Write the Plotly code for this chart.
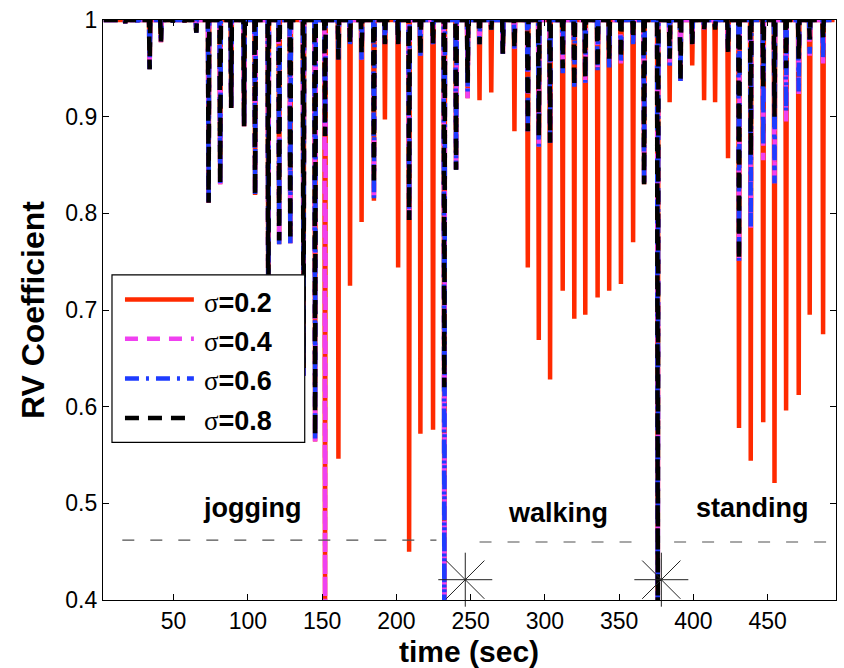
import plotly.graph_objects as go

# ---------------- data ----------------
dip_times = [17.5, 25.7, 33.9, 41.5, 49.5, 57.4, 65.3, 73.6, 81.4, 88.8,
             97.5, 104.9, 113.8, 121.1, 128.6, 137.5, 145.3, 152.0, 161.0, 168.8,
             176.6, 184.9, 192.3, 201.2, 208.6, 216.2, 224.7, 232.3, 240.2, 248.0,
             256.0, 263.9, 271.7, 279.5, 288.5, 295.9, 303.5, 312.0, 319.8, 327.2,
             335.5, 343.3, 351.2, 359.4, 366.8, 376.0, 384.0, 391.3, 399.2, 407.2,
             414.6, 423.3, 430.7, 438.6, 447.0, 454.6, 462.4, 470.9, 478.3, 487.3]

rv_sigma02 = [0.997, 0.998, 0.949, 0.977, 0.998, 0.998, 0.987, 0.811, 0.830, 0.909,
              0.890, 0.819, 0.650, 0.768, 0.769, 0.632, 0.564, 0.380, 0.546, 0.725,
              0.791, 0.813, 0.897, 0.744, 0.450, 0.572, 0.576, 0.380, 0.845, 0.919,
              0.917, 0.925, 0.965, 0.885, 0.744, 0.669, 0.628, 0.720, 0.691, 0.695,
              0.713, 0.720, 0.727, 0.770, 0.830, 0.380, 0.915, 0.937, 0.953, 0.917,
              0.915, 0.857, 0.578, 0.544, 0.584, 0.521, 0.596, 0.612, 0.695, 0.675]

rv_sigma04 = [0.997, 0.998, 0.949, 0.977, 0.998, 0.998, 0.987, 0.811, 0.830, 0.909,
              0.890, 0.819, 0.650, 0.768, 0.769, 0.632, 0.564, 0.380, 0.959, 0.975,
              0.959, 0.813, 0.975, 0.975, 0.793, 0.963, 0.975, 0.380, 0.845, 0.919,
              0.975, 0.990, 0.965, 0.970, 0.885, 0.869, 0.873, 0.945, 0.931, 0.935,
              0.947, 0.951, 0.955, 0.975, 0.830, 0.380, 0.953, 0.937, 0.975, 0.990,
              0.990, 0.967, 0.751, 0.785, 0.855, 0.831, 0.895, 0.921, 0.963, 0.955]

rv_sigma06 = [0.997, 0.998, 0.949, 0.977, 0.998, 0.998, 0.987, 0.811, 0.830, 0.909,
              0.890, 0.819, 0.650, 0.768, 0.769, 0.632, 0.564, 0.880, 0.959, 0.975,
              0.959, 0.815, 0.975, 0.975, 0.793, 0.963, 0.975, 0.380, 0.845, 0.925,
              0.975, 0.990, 0.965, 0.970, 0.885, 0.869, 0.873, 0.945, 0.931, 0.935,
              0.947, 0.951, 0.955, 0.975, 0.830, 0.380, 0.953, 0.937, 0.975, 0.990,
              0.990, 0.967, 0.751, 0.785, 0.870, 0.831, 0.905, 0.925, 0.965, 0.960]

rv_sigma08 = [0.997, 0.998, 0.949, 0.977, 0.998, 0.998, 0.987, 0.811, 0.830, 0.909,
              0.890, 0.819, 0.650, 0.772, 0.772, 0.640, 0.570, 0.880, 0.959, 0.975,
              0.965, 0.830, 0.975, 0.975, 0.793, 0.963, 0.975, 0.620, 0.845, 0.935,
              0.975, 0.990, 0.965, 0.970, 0.885, 0.880, 0.873, 0.950, 0.931, 0.940,
              0.950, 0.960, 0.960, 0.980, 0.830, 0.380, 0.960, 0.937, 0.975, 0.990,
              0.990, 0.967, 0.751, 0.860, 0.930, 0.900, 0.950, 0.960, 0.980, 0.980]

series_names = ["σ=0.2", "σ=0.4", "σ=0.6", "σ=0.8"]
series_values = [rv_sigma02, rv_sigma04, rv_sigma06, rv_sigma08]

time_start, time_end = 3.0, 495.0

activity_labels = ["jogging", "walking", "standing"]
activity_label_t = [102.9, 308.6, 440.0]
activity_label_v = [0.495, 0.490, 0.495]

threshold_t0 = [15.5, 256.0, 387.0]
threshold_t1 = [227.0, 359.0, 491.0]
threshold_v = [0.462, 0.460, 0.460]

change_t = [246.4, 378.4]
change_v = [0.421, 0.421]

x_ticks = [50, 100, 150, 200, 250, 300, 350, 400, 450]
y_ticks = [0.4, 0.5, 0.6, 0.7, 0.8, 0.9, 1.0]
y_ticktext = ["0.4", "0.5", "0.6", "0.7", "0.8", "0.9", "1"]

# ---------------- styles ----------------
colors = ["#FF2A00", "#F040F0", "#1E3CFF", "#000000"]
dashes = ["solid", "13px,9px", "14px,7px,3px,7px", "14px,9px"]
FONT = "Liberation Sans, Arial, Helvetica, sans-serif"

W, H = 844, 668
L, R, T, B = 103, 837, 15, 600  # plot area in pixels


def px(x):
    return (x - L) / (R - L)


def py(y):
    return (B - y) / (B - T)


fig = go.Figure()

for name, vals, col, dash in zip(series_names, series_values, colors, dashes):
    xs, ys = [time_start], [1.0]
    for t, v in zip(dip_times, vals):
        xs += [t - 0.45, t, t + 0.45]
        ys += [1.0, v, 1.0]
    xs.append(time_end)
    ys.append(1.0)
    fig.add_trace(go.Scatter(x=xs, y=ys, mode="lines", name=name,
                             line=dict(color=col, width=4.5, dash=dash, simplify=False),
                             showlegend=False, hoverinfo="skip"))

for t0, t1, v in zip(threshold_t0, threshold_t1, threshold_v):
    fig.add_trace(go.Scatter(x=[t0, t1], y=[v, v], mode="lines",
                             line=dict(color="#505050", width=1.2, dash="12px,16px"),
                             showlegend=False, hoverinfo="skip"))

fig.add_trace(go.Scatter(x=change_t, y=change_v, mode="markers",
                         marker=dict(symbol="asterisk-open", size=45, color="#222222",
                                     line=dict(color="#222222", width=1)),
                         cliponaxis=False, showlegend=False, hoverinfo="skip"))

annotations = []
for txt, t, v in zip(activity_labels, activity_label_t, activity_label_v):
    annotations.append(dict(x=t, y=v, xref="x", yref="y", text="<b>%s</b>" % txt,
                            showarrow=False, font=dict(family=FONT, size=27, color="black"),
                            xanchor="center", yanchor="middle"))

# axis titles
annotations.append(dict(x=px(469.7), y=py(651.5), xref="paper", yref="paper",
                        text="<b>time (sec)</b>", showarrow=False,
                        font=dict(family=FONT, size=30, color="black"),
                        xanchor="center", yanchor="middle"))
annotations.append(dict(x=px(33), y=py(307.5), xref="paper", yref="paper",
                        text="<b>RV Coefficient</b>", showarrow=False, textangle=-90,
                        font=dict(family=FONT, size=32, color="black"),
                        xanchor="center", yanchor="middle"))

# custom legend (box, line samples, labels)
shapes = [dict(type="rect", xref="paper", yref="paper",
               x0=px(112), x1=px(305), y0=py(441), y1=py(272),
               fillcolor="white", line=dict(color="black", width=1.2), layer="above")]
leg_y = [297, 336.5, 376.5, 416.5]
for name, col, dash, yy in zip(series_names, colors, dashes, leg_y):
    shapes.append(dict(type="line", xref="paper", yref="paper",
                       x0=px(125), x1=px(194), y0=py(yy), y1=py(yy),
                       line=dict(color=col, width=4.5, dash=dash), layer="above"))
    annotations.append(dict(x=px(202), y=py(yy + 3), xref="paper", yref="paper",
                            text="<span style='font-family:Liberation Serif;font-weight:normal'>σ</span><b>%s</b>" % name[1:],
                            showarrow=False, font=dict(family=FONT, size=27, color="black"),
                            xanchor="left", yanchor="middle"))

fig.update_layout(
    width=W, height=H,
    margin=dict(l=L, r=W - R, t=T, b=H - B),
    paper_bgcolor="white", plot_bgcolor="white",
    font=dict(family=FONT, color="black"),
    annotations=annotations, shapes=shapes,
    showlegend=False,
)

fig.update_xaxes(range=[2.5, 496], tickvals=x_ticks, ticks="inside", ticklen=6,
                 tickcolor="black", showline=True, linecolor="black", linewidth=1.2,
                 mirror="ticks", showgrid=False, zeroline=False,
                 tickfont=dict(family=FONT, size=23, color="black"))
fig.update_yaxes(range=[0.4, 1.0], tickvals=y_ticks, ticktext=y_ticktext, ticks="inside",
                 ticklen=6, tickcolor="black", showline=True, linecolor="black",
                 linewidth=1.2, mirror="ticks", showgrid=False, zeroline=False,
                 tickfont=dict(family=FONT, size=23, color="black"))

fig.write_html("out.html", config={"displayModeBar": False},
               post_script="document.body.style.margin='0';document.body.style.overflow='hidden';")
